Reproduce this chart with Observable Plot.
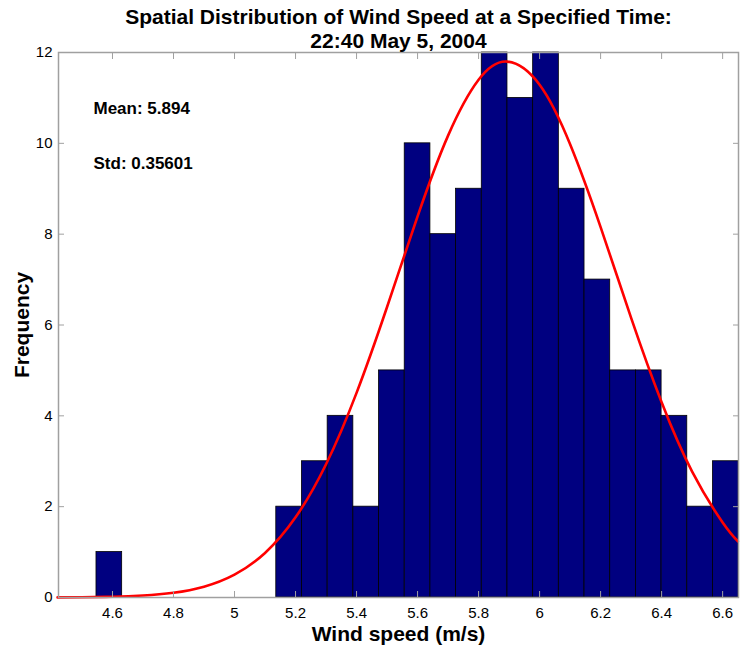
<!DOCTYPE html>
<html><head><meta charset="utf-8">
<script src="https://cdn.jsdelivr.net/npm/d3@7"></script>
<script src="https://cdn.jsdelivr.net/npm/@observablehq/plot@0.6"></script>
<style>body{margin:0;background:#fff}</style>
</head><body><div id="chart"></div>
<script>
const titleLines = ["Spatial Distribution of Wind Speed at a Specified Time:", "22:40 May 5, 2004"];
const xLabel = "Wind speed (m/s)";
const yLabel = "Frequency";
const statsText = ["Mean: 5.894", "Std: 0.35601"];

// histogram bin edges (25 bins) and counts
const binEdges = [4.5475, 4.6317, 4.7159, 4.8001, 4.8843, 4.9685, 5.0527, 5.1369, 5.2211, 5.3053,
  5.3895, 5.4737, 5.5579, 5.6421, 5.7263, 5.8105, 5.8947, 5.9789, 6.0631, 6.1473,
  6.2315, 6.3157, 6.3999, 6.4841, 6.5683, 6.6525];
const counts = [1, 0, 0, 0, 0, 0, 0, 2, 3, 4, 2, 5, 10, 8, 9, 12, 11, 12, 9, 7, 5, 5, 4, 2, 3];

// fitted normal curve
const curveX = [4.42, 4.5, 4.6, 4.7, 4.8, 4.9, 5.0, 5.1, 5.2, 5.3, 5.4, 5.5, 5.6, 5.7, 5.8, 5.894,
  6.0, 6.1, 6.2, 6.3, 6.4, 6.5, 6.6, 6.65];
const curveY = [0.002, 0.006, 0.016, 0.043, 0.105, 0.239, 0.504, 0.981, 1.765, 2.934, 4.506, 6.397,
  8.391, 10.17, 11.40, 11.80, 11.29, 9.98, 8.156, 6.158, 4.298, 2.772, 1.652, 1.238];

const xTicks = [4.6, 4.8, 5, 5.2, 5.4, 5.6, 5.8, 6, 6.2, 6.4, 6.6];
const yTicks = [0, 2, 4, 6, 8, 10, 12];

const bars = counts.map((c, i) => ({x1: binEdges[i], x2: binEdges[i + 1], y: c})).filter(d => d.y > 0);
const curve = curveX.map((x, i) => ({x, y: curveY[i]}));

const axisGray = "#a0a0a0";
const chart = Plot.plot({
  width: 743,
  height: 647,
  marginLeft: 58,
  marginRight: 5,
  marginTop: 52,
  marginBottom: 50,
  style: {fontFamily: "'Liberation Sans', Arial, sans-serif", fontSize: "15px", background: "#fff", color: "black"},
  x: {domain: [4.423, 6.652]},
  y: {domain: [0, 12]},
  marks: [
    Plot.rectY(bars, {x1: "x1", x2: "x2", y: "y", fill: "#000080", stroke: "black", strokeWidth: 0.8}),
    Plot.line(curve, {x: "x", y: "y", stroke: "#ff0000", strokeWidth: 2.6, curve: "natural"}),
    Plot.frame({stroke: axisGray, strokeWidth: 1.5}),
    Plot.axisX(xTicks, {anchor: "bottom", tickSize: 0, tickPadding: 10, label: null, fontSize: 15, tickFormat: d => String(d)}),
    Plot.axisX(xTicks, {anchor: "bottom", tickSize: -6, tickFormat: () => "", label: null, stroke: axisGray}),
    Plot.axisX(xTicks, {anchor: "top", tickSize: -6, tickFormat: () => "", label: null, stroke: axisGray}),
    Plot.axisY(yTicks, {anchor: "left", tickSize: 0, tickPadding: 6, label: null, fontSize: 15}),
    Plot.axisY(yTicks, {anchor: "left", tickSize: -6, tickFormat: () => "", label: null, stroke: axisGray}),
    Plot.axisY(yTicks, {anchor: "right", tickSize: -6, tickFormat: () => "", label: null, stroke: axisGray}),
    Plot.text([titleLines[0]], {frameAnchor: "top", lineAnchor: "bottom", dy: -29, fontSize: 21, fontWeight: "bold", text: d => d}),
    Plot.text([titleLines[1]], {frameAnchor: "top", lineAnchor: "bottom", dy: -5, fontSize: 21, fontWeight: "bold", text: d => d}),
    Plot.text([xLabel], {frameAnchor: "bottom", lineAnchor: "bottom", dy: 43, fontSize: 21, fontWeight: "bold", text: d => d}),
    Plot.text([yLabel], {frameAnchor: "left", textAnchor: "middle", lineAnchor: "middle", dx: -36, rotate: -90, fontSize: 21, fontWeight: "bold", text: d => d}),
    Plot.text([statsText[0]], {frameAnchor: "top-left", lineAnchor: "bottom", dx: 35, dy: 61, textAnchor: "start", fontSize: 17, fontWeight: "bold", text: d => d}),
    Plot.text([statsText[1]], {frameAnchor: "top-left", lineAnchor: "bottom", dx: 35, dy: 116, textAnchor: "start", fontSize: 17, fontWeight: "bold", text: d => d})
  ]
});
document.getElementById("chart").appendChild(chart);
</script>
</body></html>
